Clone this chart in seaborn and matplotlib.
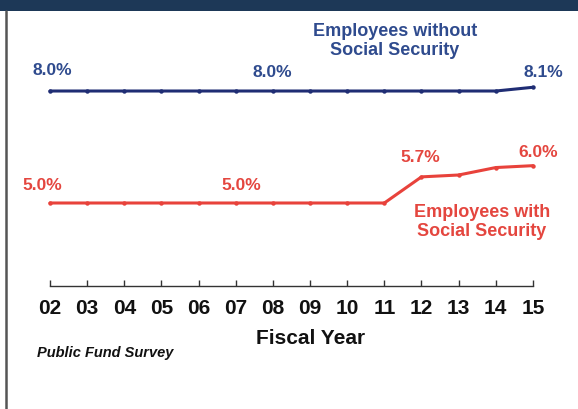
import matplotlib
matplotlib.use("Agg")
import matplotlib.pyplot as plt
from matplotlib.patches import Rectangle
from matplotlib.lines import Line2D
import seaborn as sns
import pandas as pd

# Employer contribution rates by fiscal year
years = [2, 3, 4, 5, 6, 7, 8, 9, 10, 11, 12, 13, 14, 15]
year_labels = ["02", "03", "04", "05", "06", "07", "08", "09", "10", "11", "12", "13", "14", "15"]
without_ss = [8.0, 8.0, 8.0, 8.0, 8.0, 8.0, 8.0, 8.0, 8.0, 8.0, 8.0, 8.0, 8.0, 8.1]
with_ss = [5.0, 5.0, 5.0, 5.0, 5.0, 5.0, 5.0, 5.0, 5.0, 5.0, 5.7, 5.75, 5.95, 6.0]

# value labels: (year, text, x offset px, y offset px)
without_labels = [(2, "8.0%", 2, 21), (8, "8.0%", -1, 19), (15, "8.1%", 10, 15)]
with_labels = [(2, "5.0%", -8, 18), (7, "5.0%", 6, 18), (12, "5.7%", -1, 19), (15, "6.0%", 5, 13)]

BLUE_LINE = "#1f2d74"
BLUE_TEXT = "#2f4b8e"
RED_LINE = "#e8423b"
RED_TEXT = "#e4463f"

sns.set_theme(style="white")
plt.rcParams["font.family"] = ["Liberation Sans", "DejaVu Sans"]

W, H = 578, 409
fig = plt.figure(figsize=(W / 100, H / 100), dpi=100)
fig.patch.set_facecolor("white")

def fx(px):
    return px / W

def fy(py):
    return 1 - py / H

ax = fig.add_axes([0, fy(286), 1, (286 - 12) / H])
ax.set_facecolor("none")

df = pd.DataFrame({
    "year": years * 2,
    "rate": without_ss + with_ss,
    "group": ["without"] * len(years) + ["with"] * len(years),
})
sns.lineplot(data=df, x="year", y="rate", hue="group",
             palette={"without": BLUE_LINE, "with": RED_LINE},
             marker="o", markersize=3.2, markeredgewidth=0,
             linewidth=2.2, legend=False, ax=ax)

ax.set_xlim(2 - 50 / 37.15, 2 + 528 / 37.15)
ax.set_ylim(5 - 83 / 37.33, 5 + 191 / 37.33)

for s in ["top", "right", "left"]:
    ax.spines[s].set_visible(False)
ax.spines["bottom"].set_bounds(2, 15)
ax.spines["bottom"].set_color("#333333")
ax.spines["bottom"].set_linewidth(1.0)
ax.set_yticks([])
ax.set_xticks(years)
ax.set_xticklabels(year_labels, fontsize=15, fontweight="bold", color="#111111")
ax.tick_params(axis="x", direction="in", length=4, width=1, color="#333333", pad=9, bottom=True)
ax.set_xlabel("")
ax.set_ylabel("")

for yr, txt, dx, dy in without_labels:
    ax.annotate(txt, xy=(yr, without_ss[years.index(yr)]), xytext=(dx, dy),
                textcoords="offset pixels", ha="center", va="center",
                fontsize=12.5, fontweight="bold", color=BLUE_TEXT)
for yr, txt, dx, dy in with_labels:
    ax.annotate(txt, xy=(yr, with_ss[years.index(yr)]), xytext=(dx, dy),
                textcoords="offset pixels", ha="center", va="center",
                fontsize=12.5, fontweight="bold", color=RED_TEXT)

fig.text(fx(395), fy(41), "Employees without\nSocial Security", ha="center", va="center",
         fontsize=13, fontweight="bold", color=BLUE_TEXT, linespacing=1.15)
fig.text(fx(482), fy(222), "Employees with\nSocial Security", ha="center", va="center",
         fontsize=13, fontweight="bold", color=RED_TEXT, linespacing=1.15)

fig.text(fx(311), fy(338), "Fiscal Year", ha="center", va="center",
         fontsize=15, fontweight="bold", color="#111111")
fig.text(fx(37), fy(353), "Public Fund Survey", ha="left", va="center",
         fontsize=10.5, fontweight="bold", fontstyle="italic", color="#111111")

# frame: dark header band and left rule
fig.patches.append(Rectangle((0, fy(11)), 1, 11 / H, transform=fig.transFigure,
                             facecolor="#1d3857", edgecolor="none", zorder=0))
fig.lines.append(Line2D([fx(6), fx(6)], [0, fy(11)], transform=fig.transFigure,
                        color="#555555", linewidth=1.8))

fig.savefig("out.png", dpi=100, facecolor="white")
